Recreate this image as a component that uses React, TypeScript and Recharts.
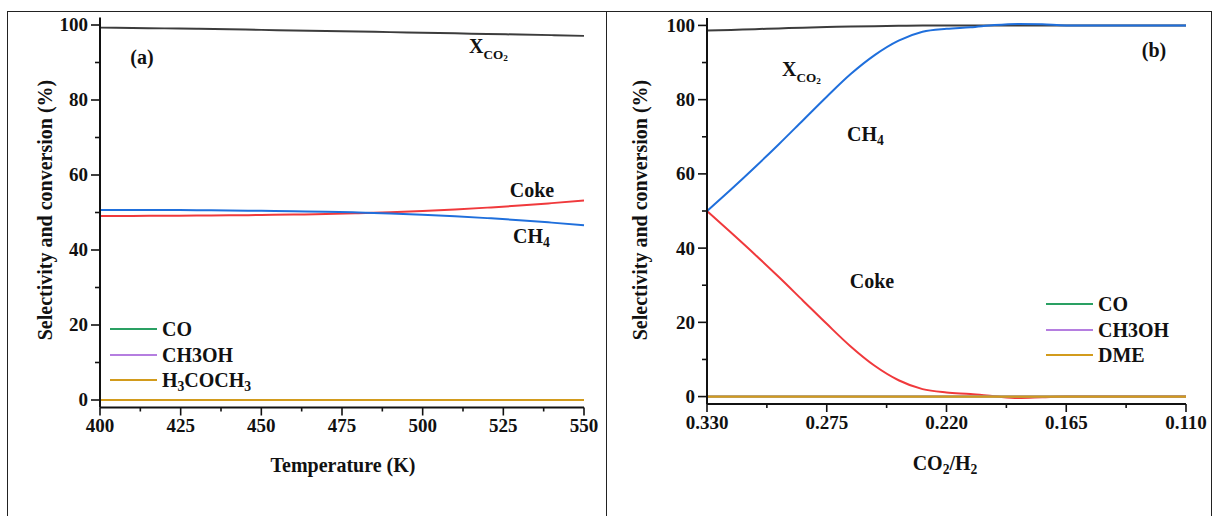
import React from "react";
import { LineChart, Line, XAxis, YAxis, Legend } from "recharts";

// (a) temperature sweep
const temps = [400, 410, 420, 430, 440, 450, 460, 470, 480, 490, 500, 510, 520, 530, 540, 550];
const xco2A = [99.3, 99.2, 99.1, 99.0, 98.85, 98.7, 98.55, 98.4, 98.25, 98.1, 97.95, 97.8, 97.6, 97.45, 97.3, 97.1];
const ch4A = [50.7, 50.7, 50.67, 50.62, 50.55, 50.45, 50.33, 50.2, 50.0, 49.75, 49.4, 49.0, 48.5, 47.95, 47.3, 46.6];
const cokeA = [49.1, 49.1, 49.12, 49.17, 49.24, 49.33, 49.45, 49.6, 49.8, 50.05, 50.4, 50.8, 51.3, 51.85, 52.5, 53.2];
const coA = [0, 0, 0, 0, 0, 0, 0, 0, 0, 0, 0, 0, 0, 0, 0, 0];
const meohA = [0, 0, 0, 0, 0, 0, 0, 0, 0, 0, 0, 0, 0, 0, 0, 0];
const dmeA = [0, 0, 0, 0, 0, 0, 0, 0, 0, 0, 0, 0, 0, 0, 0, 0];

// (b) CO2/H2 ratio sweep
const ratios = [0.33, 0.319, 0.308, 0.297, 0.286, 0.275, 0.264, 0.253, 0.242, 0.231, 0.22, 0.209, 0.198, 0.187, 0.176, 0.165, 0.154, 0.143, 0.132, 0.121, 0.11];
const xco2B = [98.6, 98.8, 99.0, 99.2, 99.4, 99.55, 99.7, 99.8, 99.9, 100, 100, 100, 100, 100, 100, 100, 100, 100, 100, 100, 100];
const ch4B = [50.0, 55.8, 61.8, 68.0, 74.4, 80.8, 86.9, 92.0, 95.9, 98.3, 99.1, 99.5, 100.1, 100.4, 100.3, 100.0, 100, 100, 100, 100, 100];
const cokeB = [50.0, 44.2, 38.3, 32.2, 25.9, 19.6, 13.5, 8.3, 4.4, 2.0, 1.1, 0.7, 0.1, -0.4, -0.2, 0, 0, 0, 0, 0, 0];
const coB = [0, 0, 0, 0, 0, 0, 0, 0, 0, 0, 0, 0, 0, 0, 0, 0, 0, 0, 0, 0, 0];
const meohB = [0, 0, 0, 0, 0, 0, 0, 0, 0, 0, 0, 0, 0, 0, 0, 0, 0, 0, 0, 0, 0];
const dmeB = [0, 0, 0, 0, 0, 0, 0, 0, 0, 0, 0, 0, 0, 0, 0, 0, 0, 0, 0, 0, 0];

const yTicks = [0, 10, 20, 30, 40, 50, 60, 70, 80, 90, 100];
const tempTicks = [400, 412.5, 425, 437.5, 450, 462.5, 475, 487.5, 500, 512.5, 525, 537.5, 550];
const ratioTicks = [0.33, 0.3025, 0.275, 0.2475, 0.22, 0.1925, 0.165, 0.1375, 0.11];
const legendOrder = ["CO", "CH3OH", "H3COCH3", "DME"];

const dataA = temps.map((t, i) => ({
  x: t, xco2: xco2A[i], ch4: ch4A[i], coke: cokeA[i], co: coA[i], meoh: meohA[i], dme: dmeA[i],
}));
const dataB = ratios.map((r, i) => ({
  x: r, xco2: xco2B[i], ch4: ch4B[i], coke: cokeB[i], co: coB[i], meoh: meohB[i], dme: dmeB[i],
}));

const FONT = '"Liberation Serif", "Times New Roman", serif';
const INK = "#111";
const C = {
  xco2: "#3c3c3c",
  ch4: "#1f6fdc",
  coke: "#f0393c",
  co: "#2aa063",
  meoh: "#b57ee0",
  dme: "#d29b1c",
};

const sub = (s: string, size = "0.68em", drop = "-0.32em") => (
  <span style={{ fontSize: size, verticalAlign: drop, lineHeight: 0 }}>{s}</span>
);

function LeftTick(props: any) {
  const { x, y, payload } = props;
  const major = payload.value % 20 === 0;
  return (
    <g>
      <line x1={x - (major ? 9 : 5)} x2={x} y1={y} y2={y} stroke={INK} strokeWidth={1.6} />
      {major && (
        <text x={x - 12} y={y} dy="0.34em" textAnchor="end" fontFamily={FONT} fontWeight="bold" fontSize={19} fill={INK}>
          {payload.value}
        </text>
      )}
    </g>
  );
}

function InnerRightTick(props: any) {
  const { x, y, payload } = props;
  const major = payload.value % 20 === 0;
  return <line x1={x} x2={x - (major ? 9 : 5)} y1={y} y2={y} stroke={INK} strokeWidth={1.6} />;
}

function BottomTick(props: any) {
  const { x, y, payload, index, digits } = props;
  const major = index % 2 === 0;
  return (
    <g>
      <line x1={x} x2={x} y1={y} y2={y + (major ? 8 : 4)} stroke={INK} strokeWidth={1.6} />
      {major && (
        <text x={x} y={y + 12} dy="0.68em" textAnchor="middle" fontFamily={FONT} fontWeight="bold" fontSize={19} fill={INK}>
          {digits ? Number(payload.value).toFixed(digits) : payload.value}
        </text>
      )}
    </g>
  );
}

const legendLabels: Record<string, React.ReactNode> = {
  CO: "CO",
  CH3OH: "CH3OH",
  H3COCH3: <>H{sub("3")}COCH{sub("3")}</>,
  DME: "DME",
};

function LegendBox(props: any) {
  const items = (props.payload || [])
    .filter((p: any) => p.type !== "none" && legendOrder.includes(p.value))
    .sort((a: any, b: any) => legendOrder.indexOf(a.value) - legendOrder.indexOf(b.value));
  return (
    <div style={{ fontFamily: FONT, fontWeight: "bold", fontSize: 20, color: INK }}>
      {items.map((p: any) => (
        <div key={p.value} style={{ display: "flex", alignItems: "center", height: 25.5 }}>
          <div style={{ width: 47, height: 2, background: p.color, marginRight: 5 }} />
          <span style={{ lineHeight: 1 }}>{legendLabels[p.value] ?? p.value}</span>
        </div>
      ))}
    </div>
  );
}

function series(dmeName: string) {
  return [
    <Line key="xco2" dataKey="xco2" type="monotone" stroke={C.xco2} strokeWidth={2} dot={false} legendType="none" isAnimationActive={false} />,
    <Line key="coke" dataKey="coke" type="monotone" stroke={C.coke} strokeWidth={2} dot={false} legendType="none" isAnimationActive={false} />,
    <Line key="ch4" dataKey="ch4" type="monotone" stroke={C.ch4} strokeWidth={2} dot={false} legendType="none" isAnimationActive={false} />,
    <Line key="co" dataKey="co" name="CO" type="monotone" stroke={C.co} strokeWidth={2} dot={false} isAnimationActive={false} />,
    <Line key="meoh" dataKey="meoh" name="CH3OH" type="monotone" stroke={C.meoh} strokeWidth={2} dot={false} isAnimationActive={false} />,
    <Line key="dme" dataKey="dme" name={dmeName} type="monotone" stroke={C.dme} strokeWidth={2.2} dot={false} isAnimationActive={false} />,
  ];
}

const axisLine = { stroke: INK, strokeWidth: 2 };

function Label({ x, y, children, size = 20, anchor = "center" }: { x: number; y: number; children: React.ReactNode; size?: number; anchor?: "center" | "left" }) {
  return (
    <div
      style={{
        position: "absolute",
        left: x,
        top: y,
        transform: anchor === "center" ? "translate(-50%, -50%)" : "translate(0, -50%)",
        fontFamily: FONT,
        fontWeight: "bold",
        fontSize: size,
        lineHeight: 1,
        whiteSpace: "nowrap",
        color: INK,
      }}
    >
      {children}
    </div>
  );
}

function YTitle({ x }: { x: number }) {
  return (
    <div
      style={{
        position: "absolute",
        left: x,
        top: 210,
        transform: "translate(-50%, -50%) rotate(-90deg)",
        fontFamily: FONT,
        fontWeight: "bold",
        fontSize: 20,
        lineHeight: 1,
        whiteSpace: "nowrap",
        color: INK,
      }}
    >
      Selectivity and conversion (%)
    </div>
  );
}

const xco2Label = (
  <>
    X
    <span style={{ fontSize: "0.66em", verticalAlign: "-0.45em", lineHeight: 0 }}>
      CO<span style={{ fontSize: "0.7em", verticalAlign: "-0.3em", lineHeight: 0 }}>2</span>
    </span>
  </>
);

export default function App() {
  return (
    <div style={{ position: "absolute", left: 0, top: 0, width: 1212, height: 516, background: "#fff", overflow: "hidden" }}>
      {/* outer frame */}
      <div style={{ position: "absolute", left: 7, top: 11, width: 1203, height: 520, borderLeft: "1.5px solid #222", borderTop: "1.5px solid #222", borderRight: "1.5px solid #222" }} />
      <div style={{ position: "absolute", left: 605.5, top: 11, width: 0, height: 520, borderLeft: "1.5px solid #222" }} />

      {/* (a) */}
      <div style={{ position: "absolute", left: 0, top: 0 }}>
        <LineChart width={606} height={516} data={dataA} margin={{ top: 17.5, right: 22, left: 0, bottom: 78.5 }}>
          <XAxis dataKey="x" type="number" domain={[400, 550]} ticks={tempTicks} interval={0} height={30}
            axisLine={axisLine} tickLine={false} tickSize={0} tickMargin={0} tick={<BottomTick />} />
          <XAxis xAxisId="top" orientation="top" dataKey="x" type="number" domain={[400, 550]} height={0}
            axisLine={axisLine} tickLine={false} tick={false} />
          <YAxis type="number" domain={[-2, 102]} ticks={yTicks} interval={0} width={100}
            axisLine={axisLine} tickLine={false} tickSize={0} tickMargin={0} tick={<LeftTick />} />
          <YAxis yAxisId="r" orientation="right" type="number" domain={[-2, 102]} ticks={yTicks} interval={0} width={0}
            axisLine={axisLine} tickLine={false} tickSize={0} tickMargin={0} tick={<InnerRightTick />} />
          <Legend layout="vertical" align="center" verticalAlign="middle" content={<LegendBox />}
            wrapperStyle={{ position: "absolute", left: 110, top: 316.25, width: "auto" }} />
          {series("H3COCH3")}
        </LineChart>
      </div>

      {/* (b) */}
      <div style={{ position: "absolute", left: 606, top: 0 }}>
        <LineChart width={606} height={516} data={dataB} margin={{ top: 18, right: 26, left: 0, bottom: 82 }}>
          <XAxis dataKey="x" type="number" domain={[0.11, 0.33]} reversed ticks={ratioTicks} interval={0} height={30}
            axisLine={axisLine} tickLine={false} tickSize={0} tickMargin={0} tick={<BottomTick digits={3} />} />
          <XAxis xAxisId="top" orientation="top" dataKey="x" type="number" domain={[0.11, 0.33]} reversed height={0}
            axisLine={axisLine} tickLine={false} tick={false} />
          <YAxis type="number" domain={[-2, 102]} ticks={yTicks} interval={0} width={101}
            axisLine={axisLine} tickLine={false} tickSize={0} tickMargin={0} tick={<LeftTick />} />
          <YAxis yAxisId="r" orientation="right" type="number" domain={[-2, 102]} width={0}
            axisLine={axisLine} tickLine={false} tick={false} />
          <Legend layout="vertical" align="center" verticalAlign="middle" content={<LegendBox />}
            wrapperStyle={{ position: "absolute", left: 440, top: 291.25, width: "auto" }} />
          {series("DME")}
        </LineChart>
      </div>

      {/* titles */}
      <YTitle x={45} />
      <YTitle x={640} />
      <Label x={343} y={465}>Temperature (K)</Label>
      <Label x={945} y={463}>CO{sub("2")}/H{sub("2")}</Label>

      {/* annotations (a) */}
      <Label x={142} y={57}>(a)</Label>
      <Label x={469} y={47} anchor="left">{xco2Label}</Label>
      <Label x={532} y={190}>Coke</Label>
      <Label x={513} y={236} anchor="left">CH{sub("4")}</Label>

      {/* annotations (b) */}
      <Label x={782} y={70} anchor="left">{xco2Label}</Label>
      <Label x={847} y={134} anchor="left">CH{sub("4")}</Label>
      <Label x={872} y={281}>Coke</Label>
      <Label x={1154} y={50}>(b)</Label>
    </div>
  );
}
